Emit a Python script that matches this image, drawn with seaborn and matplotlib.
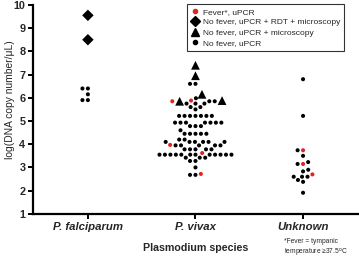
import matplotlib

matplotlib.use("Agg")
import matplotlib.pyplot as plt
import numpy as np
import pandas as pd
import seaborn as sns
from matplotlib.lines import Line2D
from matplotlib.markers import MarkerStyle
from matplotlib.transforms import Affine2D

# categories / groups
species = ["P. falciparum", "P. vivax", "Unknown"]
groups = [
    "Fever*, uPCR",
    "No fever, uPCR + RDT + microscopy",
    "No fever, uPCR + microscopy",
    "No fever, uPCR",
]

# log(DNA copy number/uL)
falciparum_rdt = [9.55, 8.5]
falciparum_nofever = [6.4, 6.4, 6.15, 5.9, 5.9]

vivax_micro = [7.4, 6.95, 6.15, 5.85, 5.88]
vivax_fever = [5.85, 5.88, 3.97, 3.62, 2.72]
vivax_nofever = (
    [6.6, 6.6, 5.98, 5.85, 5.85, 5.75, 5.75, 5.75, 5.6, 5.6, 5.5]
    + [5.22] * 7 + [4.93] * 7 + [4.78] * 3 + [4.6] + [4.45] * 5
    + [4.2] * 2 + [4.1] * 6 + [3.95] * 5 + [3.78] * 5 + [3.55] * 12
    + [3.42] * 3 + [3.28] * 2 + [3.0] + [2.68] * 2
)

unknown_fever = [3.74, 3.15, 2.7]
unknown_nofever = [6.8, 5.22, 3.74, 3.5, 3.15, 3.23, 2.9, 2.83,
                   2.6, 2.6, 2.6, 2.46, 2.38, 1.91]

group_colors = ["#e3231f", "black", "black", "black"]
group_markers = ["o", "D", "^", "o"]
draw_scale = [0.78, 1.0, 1.0, 0.78]   # drawn marker relative to swarm spacing
swarm_size = [14, 34, 40, 14]         # marker area (pt^2) used for swarm layout


def build_frame():
    rows = []
    parts = [
        ("P. falciparum", 1, falciparum_rdt),
        ("P. falciparum", 3, falciparum_nofever),
        ("P. vivax", 2, vivax_micro),
        ("P. vivax", 0, vivax_fever),
        ("P. vivax", 3, vivax_nofever),
        ("Unknown", 0, unknown_fever),
        ("Unknown", 3, unknown_nofever),
    ]
    for sp, g, vals in parts:
        for v in vals:
            rows.append({"species": sp, "group": groups[g], "gidx": g, "value": v})
    return pd.DataFrame(rows)


df = build_frame()

sns.set_theme(style="ticks")
plt.rcParams["font.family"] = ["Liberation Sans", "DejaVu Sans"]

fig = plt.figure(figsize=(3.59, 2.58), dpi=100)
ax = fig.add_axes([0.092, 0.171, 0.905, 0.81])

sns.swarmplot(
    data=df, x="species", y="value", hue="group",
    order=species, hue_order=groups,
    palette=dict(zip(groups, group_colors)),
    size=3.8, legend=False, ax=ax,
)

# per-point marker shapes and sizes (swarm layout redone at draw time)
for coll, sp in zip(ax.collections, species):
    sub = df[df["species"] == sp]
    paths = []
    for g in sub["gidx"]:
        ms = MarkerStyle(group_markers[g])
        tr = ms.get_transform() + Affine2D().scale(draw_scale[g])
        paths.append(ms.get_path().transformed(tr))
    coll.set_paths(paths)
    coll.set_sizes(np.array([swarm_size[g] for g in sub["gidx"]], dtype=float))

ax.set_xlim(-0.51, 2.51)
ax.set_ylim(1, 10)
ax.set_yticks(range(1, 11))
ax.set_xlabel("Plasmodium species", fontsize=7.7, fontweight="bold", labelpad=8)
ax.set_ylabel("log(DNA copy number/\u03bcL)", fontsize=7.4, va="center")
ax.yaxis.set_label_coords(-0.072, 0.545)
for lab in ax.get_yticklabels():
    lab.set_fontweight("bold")
    lab.set_fontsize(7.8)
for lab in ax.get_xticklabels():
    lab.set_fontweight("bold")
    lab.set_fontstyle("italic")
    lab.set_fontsize(8.2)
ax.tick_params(axis="both", length=3.5, width=1.4, color="black", pad=2)

sns.despine(ax=ax)
for side in ["left", "bottom"]:
    ax.spines[side].set_linewidth(1.6)
    ax.spines[side].set_color("black")

handles = [
    Line2D([], [], ls="none", marker="o", color=group_colors[0], markersize=3),
    Line2D([], [], ls="none", marker="D", color="black", markersize=5),
    Line2D([], [], ls="none", marker="^", color="black", markersize=6),
    Line2D([], [], ls="none", marker="o", color="black", markersize=3),
]
leg = fig.legend(
    handles, groups, loc="upper left", bbox_to_anchor=(187 / 359, 1 - 4 / 258),
    fontsize=6.0, frameon=True, fancybox=False, edgecolor="black",
    labelspacing=0.32, borderpad=0.45, handlelength=1.0, handletextpad=0.5,
    borderaxespad=0,
)
leg.get_frame().set_linewidth(0.8)

fig.text(284 / 359, 1 - 238 / 258,
         "*Fever = tympanic\ntemperature \u226537.5$^{\\rm o}$C",
         fontsize=4.8, va="top", ha="left", linespacing=1.3)

fig.savefig("out.png", dpi=100)
plt.close(fig)
